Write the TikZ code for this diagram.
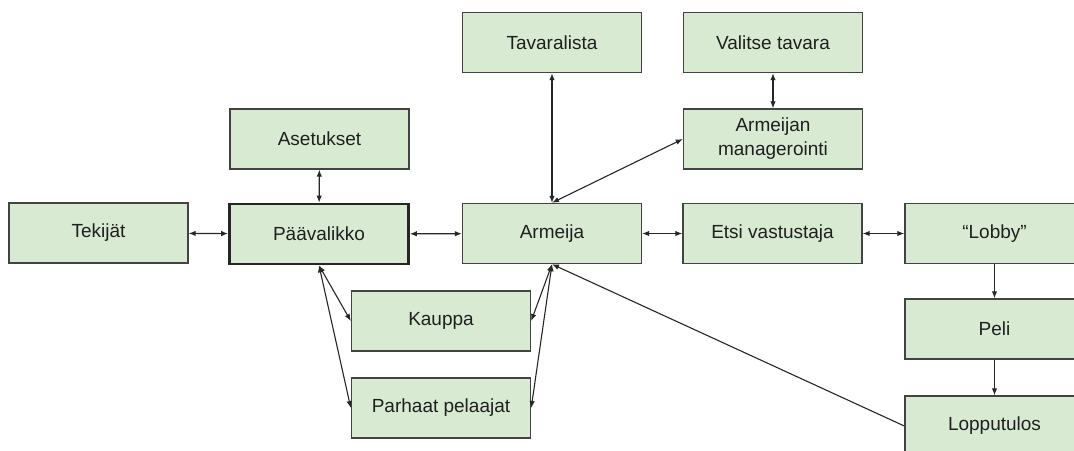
\documentclass[tikz,border=0pt]{standalone}
\usepackage{fontspec}
\setmainfont{Liberation Sans}
\usetikzlibrary{arrows.meta}
\definecolor{vihrea}{HTML}{D9EAD3}
\definecolor{reuna}{HTML}{434343}

\begin{document}
\begin{tikzpicture}[x=1pt,y=-1pt,
  laatikko/.style={draw=reuna, fill=vihrea, line width=1.4pt, minimum width=179pt,
    minimum height=60pt, inner sep=0pt, align=center, text=black!88,
    font=\fontsize{19}{24}\selectfont},
  nuoli/.style={line width=1.1pt, draw=black!85, {Latex[length=7pt,width=5.5pt]}-{Latex[length=7pt,width=5.5pt]}},
  yksi/.style={line width=1.1pt, draw=black!85, -{Latex[length=7pt,width=5.5pt]}}]

\useasboundingbox (0,0) rectangle (1074,450);
\clip (0,0) rectangle (1074,450);

% rivi keskella
\node[laatikko] (tekijat) at (98.5,233) {Tekijät};
\node[laatikko, line width=2.8pt, draw=black!85] (paavalikko) at (319,234) {Päävalikko};
\node[laatikko] (armeija) at (552,233.5) {Armeija};
\node[laatikko] (etsi) at (772.5,233.5) {Etsi vastustaja};
\node[laatikko] (lobby) at (994.5,233.5) {“Lobby”};

% ylhaalla
\node[laatikko] (asetukset) at (319.5,139) {Asetukset};
\node[laatikko] (tavaralista) at (552,42.5) {Tavaralista};
\node[laatikko] (valitse) at (773,42.5) {Valitse tavara};
\node[laatikko] (manageri) at (773,139) {Armeijan\\managerointi};

% alhaalla
\node[laatikko] (kauppa) at (441,321) {Kauppa};
\node[laatikko] (parhaat) at (441,408) {Parhaat pelaajat};
\node[laatikko] (peli) at (994.5,329) {Peli};
\node[laatikko] (lopputulos) at (994.5,426) {Lopputulos};

% nuolet
\draw[nuoli] (tekijat) -- (paavalikko);
\draw[nuoli] (paavalikko) -- (armeija);
\draw[nuoli] (armeija) -- (etsi);
\draw[nuoli] (etsi) -- (lobby);
\draw[nuoli] (asetukset) -- (paavalikko);
\draw[nuoli] (tavaralista) -- (armeija);
\draw[nuoli] (valitse) -- (manageri);
\draw[nuoli] (manageri.west) -- (armeija.north);

\draw[nuoli] (paavalikko.south) -- (kauppa.west);
\draw[nuoli] (paavalikko.south) -- (parhaat.west);
\draw[nuoli] (armeija.south) -- (kauppa.east);
\draw[nuoli] (armeija.south) -- (parhaat.east);

\draw[yksi] (lobby) -- (peli);
\draw[yksi] (peli) -- (lopputulos);
\draw[yksi] (lopputulos.west) -- (armeija.south);
\end{tikzpicture}
\end{document}
